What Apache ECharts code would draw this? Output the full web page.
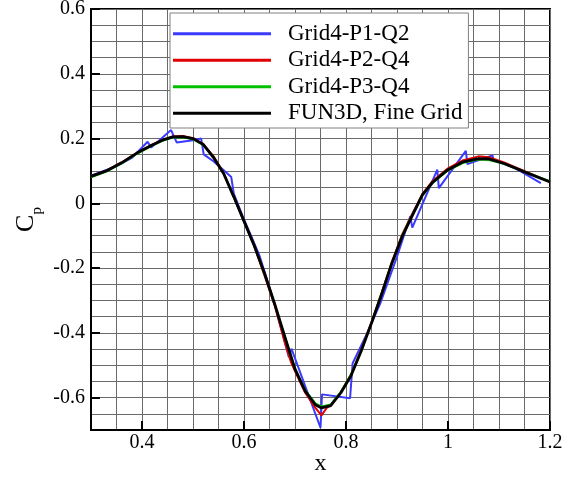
<!DOCTYPE html>
<html>
<head>
<meta charset="utf-8">
<script src="https://cdn.jsdelivr.net/npm/echarts@6/dist/echarts.min.js"></script>
<style>html,body{margin:0;padding:0;background:#fff}#c{width:573px;height:477px}</style>
</head>
<body>
<div id="c"></div>
<script>
// ---- data ----
var seriesNames = ['Grid4-P1-Q2', 'Grid4-P2-Q4', 'Grid4-P3-Q4', 'FUN3D, Fine Grid'];

var xP1 = [0.30,0.35,0.38,0.411,0.418,0.457,0.468,0.50,0.516,0.521,0.54,0.558,0.575,0.580,0.60,0.63,0.66,0.688,0.693,0.750,0.753,0.808,0.813,0.838,0.867,0.90,0.926,0.930,0.979,0.982,1.035,1.038,1.087,1.090,1.13,1.182];
var yP1 = [0.085,0.115,0.140,0.190,0.172,0.226,0.188,0.195,0.200,0.151,0.130,0.105,0.081,0.030,-0.050,-0.160,-0.310,-0.475,-0.449,-0.693,-0.590,-0.602,-0.494,-0.413,-0.310,-0.165,-0.040,-0.075,0.104,0.047,0.162,0.121,0.148,0.133,0.110,0.062];

var xP2 = [0.30,0.33,0.36,0.39,0.42,0.44,0.46,0.48,0.50,0.52,0.54,0.56,0.58,0.60,0.62,0.64,0.66,0.68,0.692,0.70,0.72,0.74,0.752,0.762,0.77,0.79,0.81,0.83,0.85,0.87,0.89,0.91,0.93,0.95,0.97,1.00,1.03,1.06,1.08,1.11,1.15,1.20];
var yP2 = [0.084,0.101,0.126,0.156,0.181,0.196,0.206,0.208,0.201,0.183,0.146,0.094,0.021,-0.056,-0.132,-0.222,-0.315,-0.430,-0.490,-0.518,-0.585,-0.632,-0.655,-0.632,-0.624,-0.583,-0.528,-0.452,-0.367,-0.276,-0.181,-0.097,-0.032,0.029,0.069,0.108,0.133,0.145,0.142,0.126,0.099,0.066];

var xP3 = [0.30,0.33,0.36,0.39,0.42,0.44,0.46,0.48,0.50,0.52,0.54,0.56,0.58,0.60,0.62,0.64,0.66,0.68,0.70,0.72,0.74,0.752,0.77,0.79,0.81,0.83,0.85,0.87,0.89,0.91,0.93,0.95,0.97,1.00,1.03,1.06,1.08,1.11,1.15,1.20];
var yP3 = [0.080,0.098,0.123,0.153,0.178,0.193,0.203,0.204,0.198,0.180,0.143,0.093,0.019,-0.056,-0.131,-0.216,-0.311,-0.411,-0.510,-0.578,-0.618,-0.627,-0.621,-0.582,-0.528,-0.454,-0.369,-0.279,-0.184,-0.100,-0.036,0.024,0.063,0.102,0.125,0.135,0.134,0.122,0.097,0.068];

var xFun = [0.30,0.33,0.36,0.39,0.42,0.44,0.46,0.48,0.50,0.52,0.54,0.56,0.58,0.60,0.62,0.64,0.66,0.68,0.70,0.72,0.74,0.752,0.77,0.79,0.81,0.83,0.85,0.87,0.89,0.91,0.93,0.95,0.97,1.00,1.03,1.06,1.08,1.11,1.15,1.20];
var yFun = [0.083,0.100,0.125,0.155,0.180,0.195,0.205,0.206,0.200,0.182,0.142,0.092,0.020,-0.055,-0.130,-0.215,-0.310,-0.412,-0.512,-0.580,-0.622,-0.632,-0.625,-0.585,-0.532,-0.455,-0.370,-0.280,-0.185,-0.103,-0.038,0.027,0.065,0.104,0.128,0.138,0.137,0.123,0.097,0.066];

var xTickLabels = [0.4, 0.6, 0.8, 1, 1.2];
var yTickLabels = [-0.6, -0.4, -0.2, 0, 0.2, 0.4, 0.6];

function pairs(xs, ys) { return xs.map(function (x, i) { return [x, ys[i]]; }); }

var FONT = 'Liberation Serif';
var chart = echarts.init(document.getElementById('c'));
var colors = ['#3a3aff', '#e00000', '#00c000', '#000000'];
var xs = [xP1, xP2, xP3, xFun], ys = [yP1, yP2, yP3, yFun];

var gridAxisX = {
  type: 'value', min: 0.3, max: 1.2, interval: 0.05, position: 'bottom',
  axisLine: { show: false }, axisTick: { show: false }, axisLabel: { show: false },
  splitLine: { show: true, lineStyle: { color: '#6a6a6a', width: 1 } }
};
var gridAxisY = {
  type: 'value', min: -0.7, max: 0.6, interval: 0.05, position: 'left',
  axisLine: { show: false }, axisTick: { show: false }, axisLabel: { show: false },
  splitLine: { show: true, lineStyle: { color: '#6a6a6a', width: 1 } }
};

chart.setOption({
  animation: false,
  backgroundColor: '#fff',
  grid: { left: 91, right: 23, top: 9, bottom: 47, containLabel: false, outerBoundsMode: 'none',
    show: true, borderColor: '#000', borderWidth: 2, backgroundColor: 'transparent' },
  legend: {
    orient: 'vertical', left: 170, top: 13,
    data: seriesNames.map(function (n) { return { name: n, icon: 'rect' }; }),
    itemWidth: 98, itemHeight: 3, itemGap: 1,
    padding: [8, 6, 2, 3],
    backgroundColor: '#fff', borderColor: '#808080', borderWidth: 1, borderRadius: 0,
    textStyle: { fontFamily: FONT, fontSize: 23, lineHeight: 25.5, color: '#000', padding: [0, 0, 0, 12] }
  },
  xAxis: [{
    type: 'value', min: 0.3, max: 1.2, interval: 0.05,
    name: 'x', nameLocation: 'middle', nameGap: 22, nameMoveOverlap: false,
    nameTextStyle: { fontFamily: FONT, fontSize: 24, color: '#000' },
    axisLine: { show: true, onZero: false, lineStyle: { color: '#000', width: 2 } },
    axisTick: { show: true, inside: true, length: 9, customValues: xTickLabels, lineStyle: { color: '#000', width: 2 } },
    axisLabel: { customValues: xTickLabels, margin: 3, fontFamily: FONT, fontSize: 20, color: '#000',
      formatter: function (v) { return String(+(+v).toFixed(2)); } },
    splitLine: { show: false }
  }, gridAxisX],
  yAxis: [{
    type: 'value', min: -0.7, max: 0.6, interval: 0.05,
    name: '{c|C}{p|p}', nameLocation: 'middle', nameGap: 50, nameRotate: 90, nameMoveOverlap: false,
    nameTextStyle: { fontFamily: FONT, color: '#000',
      rich: { c: { fontFamily: FONT, fontSize: 26, color: '#000', lineHeight: 30 },
              p: { fontFamily: FONT, fontSize: 15, color: '#000', verticalAlign: 'bottom', lineHeight: 30, padding: [0, 0, -4, 0] } } },
    axisLine: { show: true, onZero: false, lineStyle: { color: '#000', width: 2 } },
    axisTick: { show: true, inside: true, length: 9, customValues: yTickLabels, lineStyle: { color: '#000', width: 2 } },
    axisLabel: { customValues: yTickLabels, margin: 6, fontFamily: FONT, fontSize: 20, color: '#000',
      formatter: function (v) { return String(+(+v).toFixed(2)); } },
    splitLine: { show: false }
  }, gridAxisY],
  series: seriesNames.map(function (n, i) {
    return {
      name: n, type: 'line', data: pairs(xs[i], ys[i]),
      xAxisIndex: 0, yAxisIndex: 0,
      showSymbol: false, symbol: 'none', smooth: false,
      color: colors[i],
      lineStyle: { color: colors[i], width: i === 3 ? 2.8 : 2 },
      z: 2 + i
    };
  })
});
</script>
</body>
</html>
